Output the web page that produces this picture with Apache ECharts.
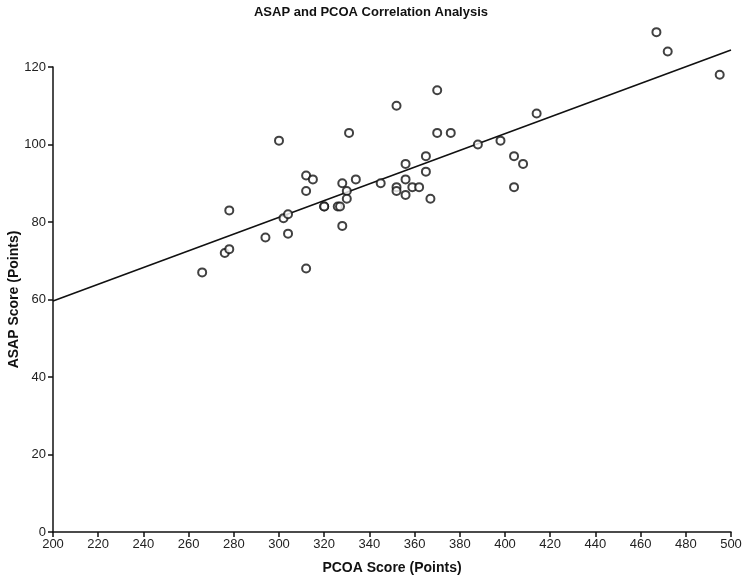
<!DOCTYPE html>
<html>
<head>
<meta charset="utf-8">
<script src="https://cdn.jsdelivr.net/npm/echarts@6/dist/echarts.min.js"></script>
<style>html,body{margin:0;padding:0;background:#fff;}#c{width:742px;height:581px;}</style>
</head>
<body>
<div id="c"></div>
<script>
var titleText = 'ASAP and PCOA Correlation Analysis';
var xName = 'PCOA Score (Points)';
var yName = 'ASAP Score (Points)';
var pcoa = [266,276,278,278,294,300,302,304,304,312,312,312,315,320,320,326,327,328,328,330,330,331,334,345,352,352,352,356,356,356,359,362,365,365,367,370,370,376,388,398,404,404,408,414,467,472,495];
var asap = [67,72,73,83,76,101,81,82,77,92,88,68,91,84,84,84,84,79,90,88,86,103,91,90,110,89,88,95,91,87,89,89,93,97,86,114,103,103,100,101,97,89,95,108,129,124,118];
var fitX = [200,500];
var fitY = [59.6,124.4];

var pts = pcoa.map(function(x,i){return [x, asap[i]];});
var fit = fitX.map(function(x,i){return [x, fitY[i]];});
var chart = echarts.init(document.getElementById('c'));
var axisTxt = {color:'#222', fontSize:13, fontFamily:'Liberation Sans, Arial, sans-serif'};
chart.setOption({
  animation:false,
  backgroundColor:'#fff',
  title:{text:titleText, left:'center', top:1, textStyle:{fontSize:13, fontWeight:'bold', color:'#111', fontFamily:'Liberation Sans, Arial, sans-serif'}},
  grid:{left:53, right:11, top:67, bottom:49, containLabel:false, outerBoundsMode:'none'},
  xAxis:{type:'value', min:200, max:500, interval:20,
    name:xName, nameLocation:'middle', nameGap:29, nameMoveOverlap:false,
    nameTextStyle:{fontSize:14, fontWeight:'bold', color:'#111', fontFamily:'Liberation Sans, Arial, sans-serif'},
    axisLine:{lineStyle:{color:'#111', width:1.5}},
    axisTick:{show:true, length:5, lineStyle:{color:'#111', width:1.5}},
    axisLabel:Object.assign({margin:6}, axisTxt),
    splitLine:{show:false}},
  yAxis:{type:'value', min:0, max:120, interval:20,
    name:yName, nameLocation:'middle', nameGap:32, nameMoveOverlap:false,
    nameTextStyle:{fontSize:14, fontWeight:'bold', color:'#111', fontFamily:'Liberation Sans, Arial, sans-serif'},
    axisLine:{show:true, lineStyle:{color:'#111', width:1.5}},
    axisTick:{show:true, length:5, lineStyle:{color:'#111', width:1.5}},
    axisLabel:Object.assign({margin:7}, axisTxt),
    splitLine:{show:false}},
  series:[
    {type:'line', data:fit, showSymbol:false, symbol:'none', clip:false,
     lineStyle:{color:'#111', width:1.6}, z:2},
    {type:'scatter', data:pts, symbol:'circle', symbolSize:8, clip:false,
     itemStyle:{color:'#fff', borderColor:'#111', borderWidth:2}, z:3}
  ]
});
</script>
</body>
</html>
